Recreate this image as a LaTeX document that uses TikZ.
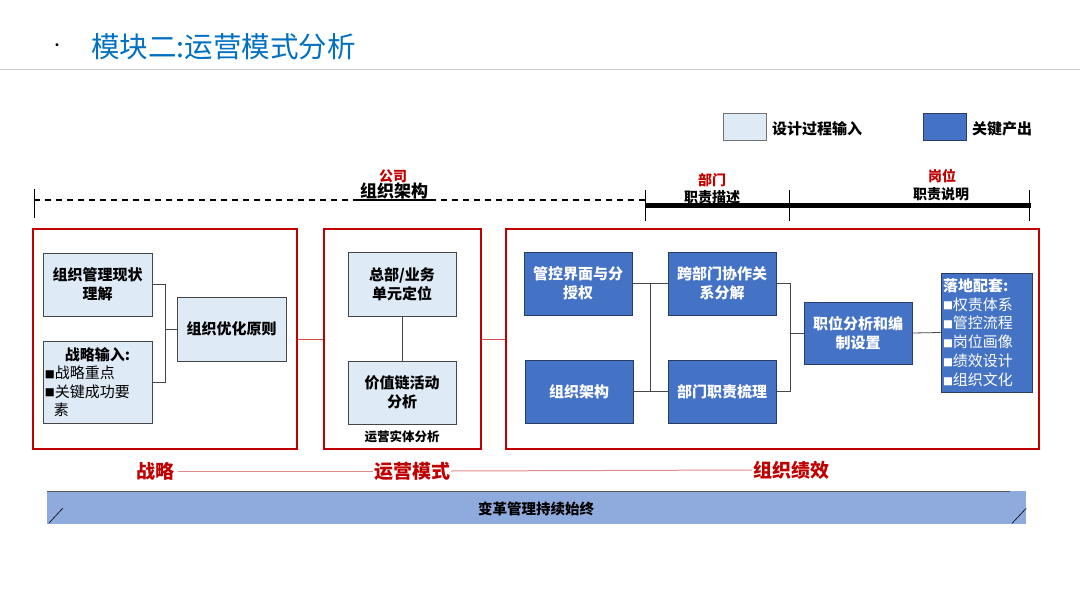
\documentclass[tikz,border=0pt]{standalone}
\usepackage{fontspec}
\setmainfont{Noto Sans CJK SC}
\newfontfamily\symf{DejaVu Sans}
\usetikzlibrary{calc}
\definecolor{titleblue}{RGB}{0,112,192}
\definecolor{lightfill}{RGB}{222,235,247}
\definecolor{darkfill}{RGB}{68,114,196}
\definecolor{darkedge}{RGB}{40,60,100}
\definecolor{framered}{RGB}{192,0,0}
\definecolor{barblue}{RGB}{143,170,220}
\definecolor{pinkline}{RGB}{225,140,140}
\definecolor{connc}{RGB}{70,70,70}
\newcommand{\sq}{\raisebox{1.2pt}{\symf\fontsize{10.5}{10}\selectfont ■}}
\tikzset{
  frame/.style={draw=framered, line width=1.8pt, inner sep=0pt},
  inbox/.style={draw=connc, fill=lightfill, line width=0.9pt, inner sep=2pt, align=center,
    font=\fontsize{15}{19}\selectfont\bfseries},
  outbox/.style={draw=darkedge, fill=darkfill, line width=0.9pt, inner sep=2pt, align=center, text=white,
    font=\fontsize{15}{19}\selectfont\bfseries},
  conn/.style={draw=connc, line width=0.8pt},
  redconn/.style={draw=red!75!black!70!white, line width=0.8pt},
  redlab/.style={text=framered, font=\fontsize{14}{14}\selectfont\bfseries, inner sep=0pt},
  blacklab/.style={text=black, font=\fontsize{15}{15}\selectfont\bfseries, inner sep=0pt},
  biglab/.style={text=framered, font=\fontsize{19}{19}\selectfont\bfseries, inner sep=1pt},
  legbox/.style={draw=gray!90!black, line width=0.8pt, minimum width=43pt, minimum height=27pt, inner sep=0pt},
}
\begin{document}
\begin{tikzpicture}[x=1pt,y=-1pt]
\useasboundingbox (0,0) rectangle (1080,608);
% title
\node[inner sep=0pt, font=\fontsize{14}{14}\selectfont] (dot) at (57,47) {·};
\node[anchor=west, inner sep=0pt, text=titleblue, font=\fontsize{28.5}{28.5}\selectfont] (title) at (91,47) {模块二:运营模式分析};
\draw[draw=gray!40, line width=0.8pt] (0,69) -- (1080,69);
% legend
\node[legbox, fill=lightfill] (lg1) at (744.5,126.5) {};
\node[anchor=west, inner sep=0pt, font=\fontsize{15}{15}\selectfont\bfseries] (lt1) at (772,129) {设计过程输入};
\node[legbox, fill=darkfill, draw=darkedge] (lg2) at (944.5,126.5) {};
\node[anchor=west, inner sep=0pt, font=\fontsize{15}{15}\selectfont\bfseries] (lt2) at (972,129) {关键产出};
% timeline
\coordinate (t0a) at (34,189);
\coordinate (t0b) at (34,218);
\draw[line width=0.9pt] (t0a) -- (t0b);
\coordinate (d0) at (34,200);
\coordinate (d1) at (645,200);
\draw[line width=1.1pt, dash pattern=on 6pt off 5pt] (d0) -- (d1);
\coordinate (u0) at (358,200);
\coordinate (u1) at (430,200);
\draw[line width=1.1pt] (u0) -- (u1);
\node[redlab] (gs) at (393,176) {公司};
\node[blacklab, font=\fontsize{17}{17}\selectfont\bfseries] (zzjg) at (394,191) {组织架构};
\node[redlab] (bm) at (712,180) {部门};
\node[blacklab, font=\fontsize{14}{14}\selectfont\bfseries] (zzms) at (712,197) {职责描述};
\node[redlab] (gw) at (942,176) {岗位};
\node[blacklab, font=\fontsize{14}{14}\selectfont\bfseries] (zzsm) at (941,194) {职责说明};
\coordinate (k0) at (645,205);
\coordinate (k1) at (1031,205);
\draw[line width=5pt] (k0) -- (k1);
\foreach \xx in {645,789,1029}{
  \draw[line width=0.9pt] (\xx,190) -- (\xx,221);
}
% frames
\node[frame, minimum width=264pt, minimum height=220pt] (f1) at (165,339) {};
\node[frame, minimum width=157pt, minimum height=220pt] (f2) at (402.5,339) {};
\node[frame, minimum width=533pt, minimum height=220pt] (f3) at (772.5,339) {};
\draw[redconn] (f1.east) -- (f2.west);
\draw[redconn] (f2.east) -- (f3.west);
% frame 1
\node[inbox, minimum width=109pt, minimum height=63pt] (A) at (97.5,284.5) {组织管理现状\\理解};
\node[inbox, minimum width=109pt, minimum height=82pt, text width=105pt, align=left,
  font=\fontsize{15}{18.5}\selectfont] (B) at (97.5,382) {\makebox[105pt]{\bfseries 战略输入:}\\\sq 战略重点\\\sq 关键成功要\\\hspace*{9pt}素};
\node[inbox, minimum width=109pt, minimum height=64pt] (C) at (231.5,329) {组织优化原则};
\coordinate (j1) at (165,329);
\draw[conn] (A.east) -- (A.east -| j1) -- (B.east -| j1) -- (B.east);
\draw[conn] (j1 |- C.west) -- (C.west);
% frame 2
\node[inbox, minimum width=108pt, minimum height=64pt] (D) at (402,284) {总部/业务\\单元定位};
\node[inbox, minimum width=108pt, minimum height=63pt] (E) at (402,392.5) {价值链活动\\分析};
\draw[conn] (D.south) -- (E.north);
\node[inner sep=0pt, font=\fontsize{12.5}{12.5}\selectfont\bfseries] (yy) at (402,437) {运营实体分析};
% frame 3
\node[outbox, minimum width=108pt, minimum height=63pt] (F) at (578,283.5) {管控界面与分\\授权};
\node[outbox, minimum width=108pt, minimum height=63pt] (G) at (579,391.5) {组织架构};
\node[outbox, minimum width=108pt, minimum height=63pt] (H) at (722,283.5) {跨部门协作关\\系分解};
\node[outbox, minimum width=108pt, minimum height=63pt] (I) at (722,391.5) {部门职责梳理};
\coordinate (j2) at (650,300);
\draw[conn] (F.east) -- (F.east -| j2) -- (G.east -| j2) -- (G.east);
\draw[conn] (H.west -| j2) -- (H.west);
\draw[conn] (I.west -| j2) -- (I.west);
\node[outbox, minimum width=108pt, minimum height=62pt] (J) at (858,333) {职位分析和编\\制设置};
\coordinate (j3) at (790,333);
\draw[conn] (H.east) -- (H.east -| j3) -- (I.east -| j3) -- (I.east);
\draw[conn] (j3 |- J.west) -- (J.west);
\node[outbox, minimum width=91pt, minimum height=119pt, text width=87pt, align=left,
  font=\fontsize{15}{18.8}\selectfont] (K) at (986.5,332.5) {{\bfseries 落地配套:}\\\sq 权责体系\\\sq 管控流程\\\sq 岗位画像\\\sq 绩效设计\\\sq 组织文化};
\draw[conn] (J.east) -- (K.west);
% bottom labels
\node[biglab] (s1) at (155,471) {战略};
\node[biglab] (s2) at (412,471) {运营模式};
\node[biglab] (s3) at (791,470) {组织绩效};
\draw[draw=pinkline, line width=1pt] (s1.east) ++(3,0) -- (s2.west);
\draw[draw=pinkline, line width=1pt] (s2.east) -- (s3.west);
% bar
\node[fill=barblue, minimum width=979pt, minimum height=33pt, inner sep=0pt] (bar) at (536.5,507.5) {};
\node[inner sep=0pt, font=\fontsize{14.5}{14.5}\selectfont\bfseries] (bart) at (536,509) {变革管理持续始终};
\coordinate (b0) at (47,491);
\coordinate (b1) at (1010,491);
\draw[draw=gray!70!black, line width=1pt] (b0) -- (b1);
\draw[line width=0.6pt] ($(bar.south west)+(2,-1)$) -- ++(14,-15);
\draw[line width=0.6pt] ($(bar.south east)+(-14,-1)$) -- ++(14,-15);
\end{tikzpicture}
\end{document}
